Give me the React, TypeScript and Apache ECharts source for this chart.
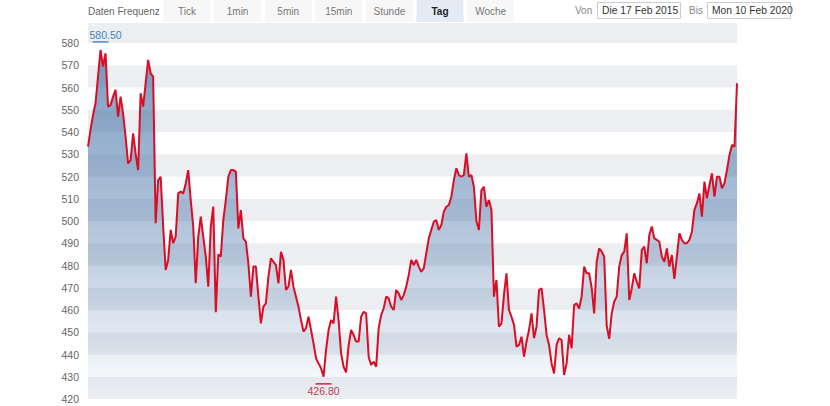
import React, { useEffect, useRef } from "react";
import * as echarts from "echarts";

const FROM_LABEL = "Die 17 Feb 2015";
const TO_LABEL = "Mon 10 Feb 2020";
const FREQ_TITLE = "Daten Frequenz";
const frequencies = ["Tick", "1min", "5min", "15min", "Stunde", "Tag", "Woche"];
const selectedFrequency = "Tag";
const HIGH = 580.5;
const LOW = 426.8;
const Y_MIN = 420;
const Y_MAX = 589;
const Y_STEP = 10;

// weekly closes, 17 Feb 2015 .. 10 Feb 2020
const closes = [
  533.4, 540.9, 547.6, 552.9, 564.9, 576.9, 569.4, 575.4, 551.4, 552.1,
  555.9, 558.9, 546.9, 555.9, 548.4, 537.9, 525.9, 527.4, 539.4, 530.4,
  522.9, 557.4, 551.4, 561.9, 572.4, 566.4, 564.9, 499.0, 518.4, 519.9,
  497.5, 478.0, 482.5, 496.0, 490.0, 493.0, 512.4, 513.2, 512.4, 516.9,
  522.9, 509.4, 497.5, 472.0, 493.0, 502.0, 493.0, 484.0, 470.5, 497.5,
  506.5, 459.0, 485.0, 484.0, 500.4, 509.4, 519.9, 522.9, 522.9, 522.2,
  496.7, 504.9, 492.2, 490.7, 481.0, 466.0, 479.5, 479.5, 466.0, 454.0,
  461.5, 463.0, 475.0, 483.2, 481.7, 480.2, 472.0, 486.2, 482.5, 469.0,
  470.5, 478.0, 470.5, 466.0, 461.5, 455.5, 450.3, 451.8, 457.0, 451.0,
  445.0, 438.3, 436.0, 433.8, 430.0, 442.0, 451.0, 455.5, 454.0, 466.0,
  455.5, 440.5, 434.5, 432.0, 444.0, 451.0, 448.8, 445.8, 445.8, 457.0,
  459.2, 458.5, 439.0, 435.3, 436.8, 434.5, 451.8, 457.7, 460.8, 466.0,
  465.2, 461.5, 460.0, 469.0, 467.5, 464.5, 466.7, 470.5, 475.7, 482.5,
  480.2, 482.5, 479.5, 477.2, 478.7, 485.5, 492.2, 496.0, 499.7, 500.4,
  496.0, 498.2, 504.2, 506.4, 507.2, 510.9, 518.4, 523.7, 520.7, 519.9,
  520.7, 530.4, 519.9, 520.7, 515.4, 500.0, 496.0, 513.9, 515.4, 506.4,
  509.4, 505.0, 466.0, 473.5, 452.5, 454.0, 466.7, 476.5, 460.0, 457.0,
  453.3, 443.5, 444.3, 448.0, 439.0, 445.8, 451.0, 458.5, 447.3, 452.5,
  469.0, 469.7, 460.0, 448.8, 444.3, 436.0, 431.5, 444.3, 447.3, 446.5,
  430.8, 436.0, 448.8, 442.8, 462.2, 463.0, 460.7, 466.0, 479.5, 476.5,
  476.5, 470.0, 458.5, 481.7, 487.7, 486.2, 484.0, 453.0, 447.0, 458.5,
  463.7, 466.0, 479.5, 484.7, 486.2, 494.5, 464.5, 469.7, 476.5, 472.7,
  469.7, 487.0, 488.5, 481.0, 493.7, 497.5, 492.2, 491.5, 490.7, 484.0,
  481.7, 487.7, 479.5, 484.7, 474.0, 484.0, 494.5, 491.5, 490.0, 490.0,
  491.5, 495.2, 505.0, 508.0, 512.4, 502.0, 517.7, 510.2, 516.2, 521.4,
  511.0, 519.9, 519.9, 514.7, 517.0, 522.9, 529.7, 534.2, 533.4, 561.9,
];

const weeks = closes.map((_, i) =>
  new Date(Date.UTC(2015, 1, 17) + i * 7 * 86400000).toISOString().slice(0, 10)
);

const FONT = "'Liberation Sans', Arial, sans-serif";

export default function App() {
  const ref = useRef<HTMLDivElement>(null);

  useEffect(() => {
    document.body.style.margin = "0";
    const chart = echarts.init(ref.current!, null, { renderer: "svg" });

    let maxIdx = 0;
    let minIdx = 0;
    closes.forEach((v, i) => {
      if (v > closes[maxIdx]) maxIdx = i;
      if (v < closes[minIdx]) minIdx = i;
    });

    const graphics: any[] = [];
    graphics.push({
      type: "text",
      x: 88,
      y: 11,
      style: {
        text: FREQ_TITLE,
        fill: "#666",
        font: `10px ${FONT}`,
        textVerticalAlign: "middle",
        verticalAlign: "middle",
      },
    });
    frequencies.forEach((f, i) => {
      const x = 163.5 + i * 50.6;
      const sel = f === selectedFrequency;
      graphics.push({
        type: "rect",
        shape: { x, y: 0, width: 47, height: 22 },
        style: { fill: sel ? "#e4ebf5" : "#f7f7f7" },
      });
      graphics.push({
        type: "text",
        x: x + 23.5,
        y: 11,
        style: {
          text: f,
          fill: sel ? "#222" : "#777",
          font: `${sel ? "bold " : ""}10px ${FONT}`,
          textAlign: "center",
          align: "center",
          textVerticalAlign: "middle",
          verticalAlign: "middle",
        },
      });
    });
    const addInput = (label: string, lx: number, bx: number, bw: number, value: string) => {
      graphics.push({
        type: "text",
        x: lx,
        y: 10.5,
        style: {
          text: label,
          fill: "#888",
          font: `10px ${FONT}`,
          textVerticalAlign: "middle",
          verticalAlign: "middle",
        },
      });
      graphics.push({
        type: "rect",
        shape: { x: bx + 0.5, y: 2.5, width: bw, height: 16 },
        style: { fill: "#fff", stroke: "#cccccc", lineWidth: 1 },
      });
      graphics.push({
        type: "text",
        x: bx + 5,
        y: 10.5,
        style: {
          text: value,
          fill: "#333",
          font: `10.3px ${FONT}`,
          textVerticalAlign: "middle",
          verticalAlign: "middle",
        },
      });
    };
    addInput("Von", 575, 597, 83, FROM_LABEL);
    addInput("Bis", 689, 707, 83, TO_LABEL);

    chart.setOption({
      animation: false,
      grid: {
        left: 88,
        right: 93,
        top: 23,
        bottom: 7,
        containLabel: false,
        outerBoundsMode: "none",
      },
      graphic: graphics,
      xAxis: {
        type: "category",
        data: weeks,
        boundaryGap: false,
        show: false,
      },
      yAxis: {
        type: "value",
        min: Y_MIN,
        max: Y_MAX,
        interval: Y_STEP,
        axisLine: { show: false },
        axisTick: { show: false },
        splitLine: { show: false },
        splitArea: { show: true, areaStyle: { color: ["#eceef1", "#ffffff"] } },
        axisLabel: {
          showMaxLabel: false,
          color: "#666",
          fontSize: 10.5,
          fontFamily: FONT,
          margin: 9,
        },
      },
      series: [
        {
          type: "line",
          data: closes,
          symbol: "none",
          lineStyle: { color: "#da0d24", width: 2 },
          areaStyle: {
            color: new echarts.graphic.LinearGradient(0, 0, 0, 1, [
              { offset: 0, color: "rgba(69,114,167,1)" },
              { offset: 0.5, color: "rgba(69,114,167,0.6)" },
              { offset: 1, color: "rgba(69,114,167,0)" },
            ]),
          },
          markPoint: {
            silent: true,
            data: [
              {
                coord: [maxIdx, HIGH],
                symbol: "rect",
                symbolSize: [16, 1.5],
                itemStyle: { color: "#4a8ac8" },
                label: {
                  show: true,
                  formatter: HIGH.toFixed(2),
                  position: "top",
                  distance: 1,
                  offset: [5, 0],
                  color: "#3d85c6",
                  fontSize: 10.5,
                  fontFamily: FONT,
                },
              },
              {
                coord: [minIdx, LOW],
                symbol: "rect",
                symbolSize: [16, 1.5],
                itemStyle: { color: "#d0243f" },
                label: {
                  show: true,
                  formatter: LOW.toFixed(2),
                  position: "bottom",
                  distance: 1,
                  color: "#b3405a",
                  fontSize: 10.5,
                  fontFamily: FONT,
                },
              },
            ],
          },
        },
      ],
    });

    return () => chart.dispose();
  }, []);

  return <div ref={ref} style={{ width: 830, height: 406 }} />;
}
